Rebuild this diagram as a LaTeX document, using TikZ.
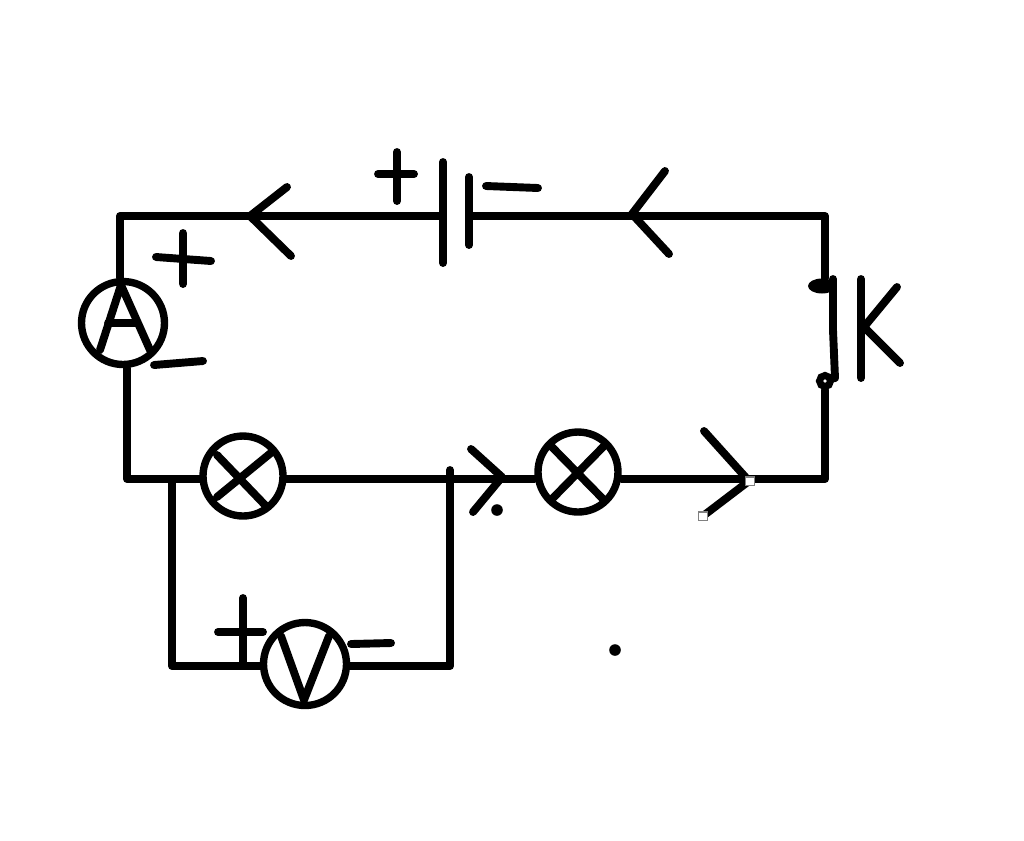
\documentclass[tikz,border=0pt]{standalone}
\usetikzlibrary{shapes.geometric}
\tikzset{
  wire/.style={line width=4.5pt,line cap=round,line join=round},
  meter/.style={circle,draw,line width=4.2pt,inner sep=0pt},
  speck/.style={circle,fill=black,inner sep=0pt,minimum size=6.6pt},
  handle/.style={draw=gray,fill=white,line width=.6pt,inner sep=0pt,minimum size=4.6pt}
}
\begin{document}
\begin{tikzpicture}[x=0.02cm,y=-0.02cm]
  \useasboundingbox (0,0) rectangle (1024,840);
  % corners and junctions
  \coordinate (tl) at (120,216);
  \coordinate (tr) at (825,216);
  \coordinate (br) at (825,479);
  \coordinate (bl) at (127,479);
  \coordinate (vl) at (172,479);
  \coordinate (vbl) at (172,666);
  \coordinate (vbr) at (450,666);
  \coordinate (vr) at (450,470);
  \coordinate (batp) at (443,216);
  \coordinate (batm) at (469,216);
  \coordinate (kt) at (833,279);
  \coordinate (kb) at (835,378);
  % meters and lamps
  \node[meter,minimum size=1.66cm] (A) at (123,323) {};
  \node[meter,minimum size=1.6cm] (L1) at (243,476) {};
  \node[meter,minimum size=1.6cm] (L2) at (578,472) {};
  \node[meter,minimum size=1.66cm] (V) at (305,664) {};
  % switch contacts
  \node[ellipse,fill=black,inner sep=0pt,minimum width=0.56cm,minimum height=0.3cm] (k1) at (822,286) {};
  \node[circle,draw,line width=4pt,minimum size=0.22cm,inner sep=0pt] (k2) at (825,381) {};
  % wires
  \draw[wire] (A.north -| tl) -- (tl) -- (batp);
  \draw[wire] (batm) -- (tr) -- (k1.north -| tr);
  \draw[wire] (k2.south -| br) -- (br) -- (L2.east |- br);
  \draw[wire] (L2.west |- br) -- (L1.east |- br);
  \draw[wire] (L1.west |- bl) -- (bl) -- (A.south -| bl);
  \draw[wire] (vl) -- (vbl) -- (V.west |- vbl);
  \draw[wire] (V.east |- vbr) -- (vbr) -- (vr);
  \draw[wire] (kt) -- (833,330) -- (kb) -- (k2);
  % battery
  \draw[wire] (443,162) -- (443,263);
  \draw[wire] (469,177) -- (469,245);
  % arrows
  \draw[wire] (287,187) -- (250,216) -- (291,256);
  \draw[wire] (665,171) -- (632,214) -- (669,254);
  \draw[wire] (471,449) -- (502,477) -- (473,512);
  \draw[wire] (704,431) -- (749,481) -- (703,516);
  % signs
  \draw[wire] (378,174) -- (414,174) (397,152) -- (397,201);
  \draw[wire] (486,186) -- (538,188);
  \draw[wire] (156,257) -- (211,261) (183,233) -- (183,284);
  \draw[wire] (154,365) -- (203,361);
  \draw[wire] (218,632) -- (263,632) (243,598) -- (243,664);
  \draw[wire] (351,644) -- (391,643);
  % lamp crosses
  \draw[wire] (217,455) -- (265,505) (272,452) -- (217,497);
  \draw[wire] (552,447) -- (603,499) (603,447) -- (552,499);
  % letters drawn by hand
  \draw[wire] (100,350) -- (121,285) -- (150,350) (108,323) -- (138,323);
  \draw[wire] (281,636) -- (304,700) -- (329,636);
  \draw[wire] (861,279) -- (861,378) (897,287) -- (864,327) -- (900,363);
  % specks
  \node[speck] (s1) at (497,510) {};
  \node[speck] (s2) at (615,650) {};
  \node[handle] (h1) at (703,516) {};
  \node[handle] (h2) at (750,481) {};
\end{tikzpicture}
\end{document}
